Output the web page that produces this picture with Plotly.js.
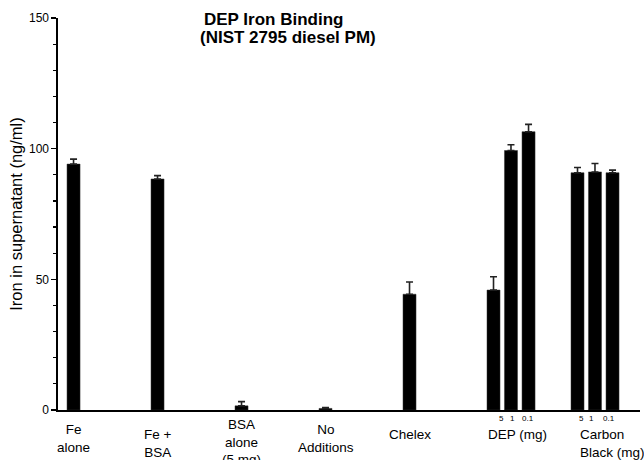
<!DOCTYPE html>
<html>
<head>
<meta charset="utf-8">
<script src="https://cdn.plot.ly/plotly-3.0.1.min.js"></script>
<style>html,body{margin:0;padding:0;background:#fff;}#chart{width:644px;height:460px;}</style>
</head>
<body>
<div id="chart"></div>
<script>
// ---- data ----
var barNames = ["Fe alone", "Fe + BSA", "BSA alone (5 mg)", "No Additions", "Chelex",
                "DEP 5 mg", "DEP 1 mg", "DEP 0.1 mg", "Carbon Black 5 mg", "Carbon Black 1 mg", "Carbon Black 0.1 mg"];
var ironValues = [94.1, 88.4, 1.6, 0.6, 44.3, 45.9, 99.3, 106.5, 90.8, 91.1, 90.8];
var ironErrors = [1.9, 1.3, 1.6, 0.3, 4.7, 5.1, 2.2, 2.8, 2.0, 3.2, 1.0];
var groupLabels = ["Fe<br>alone", "Fe +<br>BSA", "BSA<br>alone<br>(5 mg)", "No<br>Additions", "Chelex", "DEP (mg)", "Carbon<br>Black (mg)"];
var doseLabels = ["5", "1", "0.1", "5", "1", "0.1"];
var titleLines = ["DEP Iron Binding", "(NIST 2795 diesel PM)"];
var yTitle = "Iron in supernatant (ng/ml)";

// ---- layout positions (x axis units: one unit per condition) ----
var barX = [0, 1, 2, 3, 4, 5, 5.208, 5.417, 6, 6.208, 6.417];
var groupLabelX = [0, 1, 2, 3, 4, 5.28, 6.0];
var groupLabelY = [-0.025, -0.037, -0.013, -0.025, -0.037, -0.037, -0.037];
var groupLabelAlign = ["center", "center", "center", "center", "center", "center", "left"];
var doseLabelX = [5.09, 5.23, 5.41, 6.05, 6.17, 6.37];

var font = "Liberation Sans, Arial, sans-serif";

var trace = {
  type: "bar",
  x: barX,
  y: ironValues,
  text: barNames,
  hoverinfo: "text+y",
  textposition: "none",
  width: 0.155,
  marker: {color: "#000000", line: {color: "#333333", width: 0.5}},
  error_y: {
    type: "data",
    symmetric: false,
    array: ironErrors,
    arrayminus: ironErrors.map(function(){return 0;}),
    color: "#222222",
    thickness: 1.6,
    width: 3.5
  }
};

var annotations = [];
groupLabels.forEach(function(t, i){
  var left = groupLabelAlign[i] === "left";
  annotations.push({
    text: t, xref: "x", yref: "paper", x: groupLabelX[i], y: groupLabelY[i],
    xanchor: left ? "left" : "center", yanchor: "top", align: groupLabelAlign[i],
    showarrow: false, font: {family: font, size: 13.5, color: "#000"}
  });
});
doseLabels.forEach(function(t, i){
  annotations.push({
    text: t, xref: "x", yref: "paper", x: doseLabelX[i], y: -0.006,
    xanchor: "center", yanchor: "top", showarrow: false,
    font: {family: font, size: 8, color: "#000"}
  });
});
annotations.push({
  text: "<b>" + titleLines[0] + "</b>", xref: "paper", yref: "paper",
  x: (273 - 58) / 582, y: 1.0 - 2 / 392, xanchor: "center", yanchor: "middle",
  showarrow: false, font: {family: font, size: 17, color: "#000"}
});
annotations.push({
  text: "<b>" + titleLines[1] + "</b>", xref: "paper", yref: "paper",
  x: (288 - 58) / 582, y: 1.0 - 20 / 392, xanchor: "center", yanchor: "middle",
  showarrow: false, font: {family: font, size: 17, color: "#000"}
});

var layout = {
  width: 644, height: 460,
  margin: {l: 58, r: 4, t: 18, b: 50, pad: 0},
  paper_bgcolor: "#ffffff", plot_bgcolor: "#ffffff",
  showlegend: false,
  font: {family: font, color: "#000"},
  xaxis: {
    range: [-0.185, 6.744], showline: true, linecolor: "#000", linewidth: 1.6,
    showticklabels: false, ticks: "", showgrid: false, zeroline: false, fixedrange: true
  },
  yaxis: {
    range: [0, 150], tickvals: [0, 50, 100, 150], ticks: "outside", ticklen: 5,
    tickwidth: 1.5, tickcolor: "#000",
    minor: {dtick: 10, ticks: "outside", ticklen: 3, tickwidth: 1.2, tickcolor: "#000", showgrid: false},
    showline: true, linecolor: "#000", linewidth: 1.6,
    showgrid: false, zeroline: false,
    tickfont: {family: font, size: 12, color: "#000"},
    title: {text: yTitle, font: {family: font, size: 16.5, color: "#000"}, standoff: 2},
    fixedrange: true
  },
  annotations: annotations
};

Plotly.newPlot("chart", [trace], layout, {displayModeBar: false, staticPlot: true});
</script>
</body>
</html>
